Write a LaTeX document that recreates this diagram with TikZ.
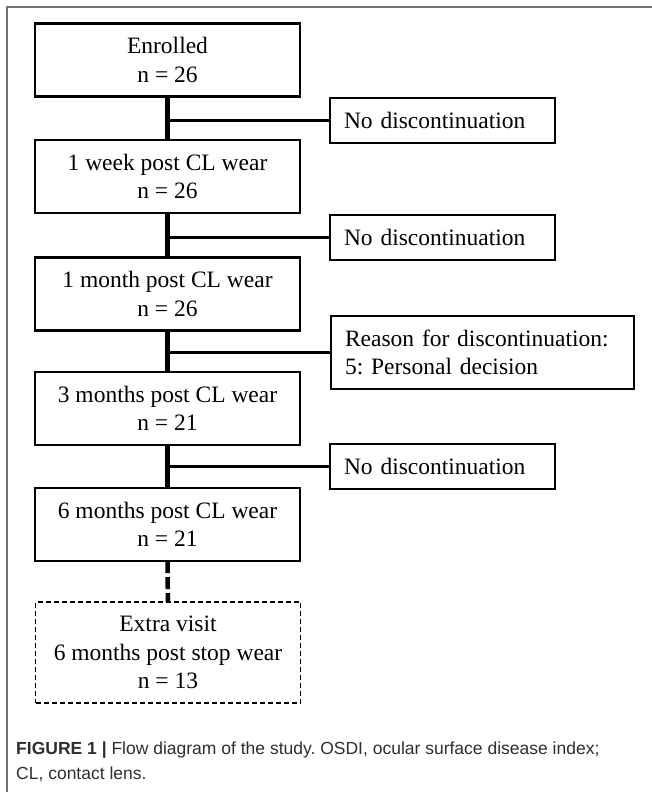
\documentclass[tikz,border=0pt]{standalone}
\usepackage{fontspec}
\setmainfont{Liberation Serif}
\setsansfont{Liberation Sans}
\frenchspacing
\usepackage{tikz}
\usetikzlibrary{
  arrows.meta,
  positioning
}
\tikzset{
  box label/.style={font=\fontsize{23.5}{28.5}\selectfont},
  figure caption/.style={font=\sffamily\fontsize{17.5}{25}\selectfont,
    text=black!82,inner sep=0pt,align=left},
  visit/.style={rectangle,draw=black,line width=2.2pt,outer sep=0pt,
    minimum width=265pt,minimum height=73pt,align=center,box label},
  extra visit/.style={visit,dash pattern=on 5pt off 3pt,line width=1.7pt,
    minimum height=101pt},
  dropout/.style={rectangle,draw=black,line width=2.2pt,outer sep=0pt,
    inner xsep=14pt,minimum height=45pt,text width=197pt,align=left,box label},
  reason/.style={dropout,text width=275pt,minimum height=73pt},
  main flow/.style={line width=4.5pt},
  extra flow/.style={line width=4.5pt,dash pattern=on 12pt off 4pt},
  side flow/.style={line width=2.2pt},
  frame/.style={draw=black!55,line width=1.6pt}
}

\begin{document}
\begin{tikzpicture}[x=1pt,y=-1pt]
  \useasboundingbox (0,0) rectangle (652,792);
  \draw[frame] (7,792) -- (7,7) -- (652,7);

  \node[visit] (enrolled) at (167.5,60) {Enrolled\\n = 26};
  \node[visit] (week) at (167.5,176.5) {1 week post CL wear\\n = 26};
  \node[visit] (month) at (167.5,294) {1 month post CL wear\\n = 26};
  \node[visit] (threemonths) at (167.5,408.5) {3 months post CL wear\\n = 21};
  \node[visit] (sixmonths) at (167.5,524.5) {6 months post CL wear\\n = 21};
  \node[extra visit] (extra) at (168,652.5)
    {Extra visit\\6 months post stop wear\\n = 13};

  \node[dropout] (nodiscA) at (442.5,120.5) {No discontinuation};
  \node[dropout] (nodiscB) at (442.5,237.5) {No discontinuation};
  \node[reason] (reasonC) at (482.5,352.5)
    {Reason for discontinuation:\\5: Personal decision};
  \node[dropout] (nodiscD) at (442.5,466.5) {No discontinuation};

  \draw[main flow] (enrolled) -- (week);
  \draw[main flow] (week) -- (month);
  \draw[main flow] (month) -- (threemonths);
  \draw[main flow] (threemonths) -- (sixmonths);
  \draw[extra flow] (sixmonths) -- (extra);

  \draw[side flow] (nodiscA.west) -- (nodiscA.west -| enrolled.south);
  \draw[side flow] (nodiscB.west) -- (nodiscB.west -| week.south);
  \draw[side flow] (reasonC.west) -- (reasonC.west -| month.south);
  \draw[side flow] (nodiscD.west) -- (nodiscD.west -| threemonths.south);

  \node[figure caption,anchor=base west] (caption) at (16,779)
    {\textbf{FIGURE 1 |} Flow diagram of the study. OSDI, ocular surface disease index;\\
     CL, contact lens.};
\end{tikzpicture}
\end{document}
